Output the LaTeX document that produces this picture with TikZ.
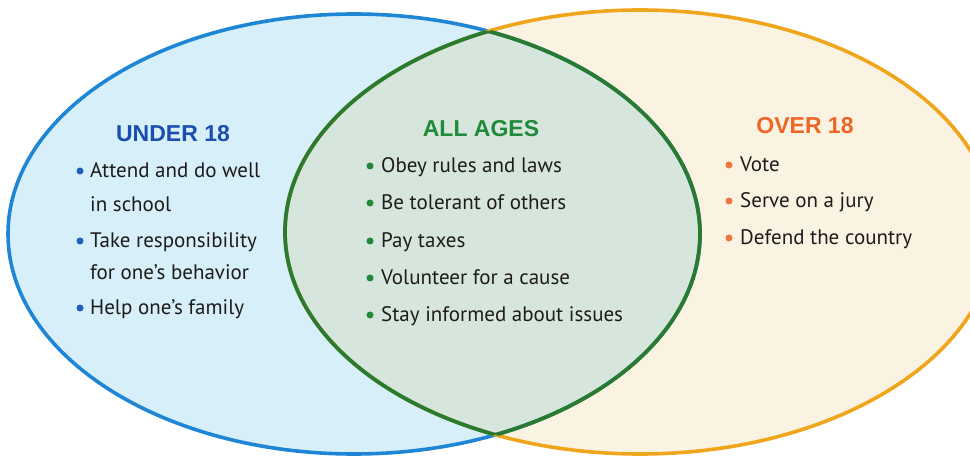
\documentclass[tikz,border=0pt]{standalone}
\usepackage{fontspec}
\setmainfont{PT Sans}
\newfontfamily\headfont{Liberation Sans}
\begin{document}
\begin{tikzpicture}[x=1pt,y=-1pt,
  item/.style={anchor=base west,inner sep=0pt,text=inkc,font=\fontsize{21}{25}\selectfont},
  head/.style={anchor=base,inner sep=0pt,font=\headfont\bfseries\fontsize{23}{27}\selectfont},
  dotmark/.style={circle,inner sep=0pt,minimum size=7pt}]
\definecolor{inkc}{HTML}{1E1B1C}
\definecolor{youngfill}{HTML}{D6EFF8}
\definecolor{adultfill}{HTML}{FBF3E2}
\definecolor{sharedfill}{HTML}{D6E6DC}
\definecolor{youngline}{HTML}{1F86D6}
\definecolor{adultline}{HTML}{EFA51C}
\definecolor{sharedline}{HTML}{2B7A31}
\definecolor{younghead}{HTML}{1B4DB0}
\definecolor{sharedhead}{HTML}{1E8A3A}
\definecolor{adulthead}{HTML}{EE6524}
\definecolor{youngdot}{HTML}{1E5FC0}
\definecolor{shareddot}{HTML}{23883A}
\definecolor{adultdot}{HTML}{EE7440}

\useasboundingbox (0,0) rectangle (970,457);

% the two sets
\def\youngset{(354,234) ellipse [x radius=346pt, y radius=220pt]}
\def\adultset{(640,232) ellipse [x radius=355pt, y radius=222pt]}

\fill[youngfill] \youngset;
\fill[adultfill] \adultset;
\begin{scope}
  \clip \youngset;
  \fill[sharedfill] \adultset;
\end{scope}

% outlines
\draw[youngline,line width=3.6pt] \youngset;
\draw[adultline,line width=3.6pt] \adultset;
\begin{scope}
  \clip \youngset;
  \draw[sharedline,line width=3.8pt] \adultset;
\end{scope}
\begin{scope}
  \clip \adultset;
  \draw[sharedline,line width=3.8pt] \youngset;
\end{scope}

% under 18
\node[head,text=younghead] (h1) at (173,142) {UNDER 18};
\node[item] (a1) at (90,178) {Attend and do well};
\node[item] (a1b) at (90,212) {in school};
\node[item] (a2) at (90,248) {Take responsibility};
\node[item] (a2b) at (90,280) {for one’s behavior};
\node[item] (a3) at (90,315) {Help one’s family};
\foreach \n/\y in {da1/171,da2/241,da3/308}
  \node[dotmark,fill=youngdot] (\n) at (80,\y) {};

% all ages
\node[head,text=sharedhead] (h2) at (481,137) {ALL AGES};
\node[item] (b1) at (381,173) {Obey rules and laws};
\node[item] (b2) at (381,210) {Be tolerant of others};
\node[item] (b3) at (381,248) {Pay taxes};
\node[item] (b4) at (381,285) {Volunteer for a cause};
\node[item] (b5) at (381,322) {Stay informed about issues};
\foreach \n/\y in {db1/166,db2/203,db3/241,db4/278,db5/315}
  \node[dotmark,fill=shareddot] (\n) at (370,\y) {};

% over 18
\node[head,text=adulthead] (h3) at (805,134) {OVER 18};
\node[item] (c1) at (740,172) {Vote};
\node[item] (c2) at (740,208) {Serve on a jury};
\node[item] (c3) at (740,245) {Defend the country};
\foreach \n/\y in {dc1/165,dc2/201,dc3/238}
  \node[dotmark,fill=adultdot] (\n) at (729,\y) {};
\end{tikzpicture}
\end{document}
